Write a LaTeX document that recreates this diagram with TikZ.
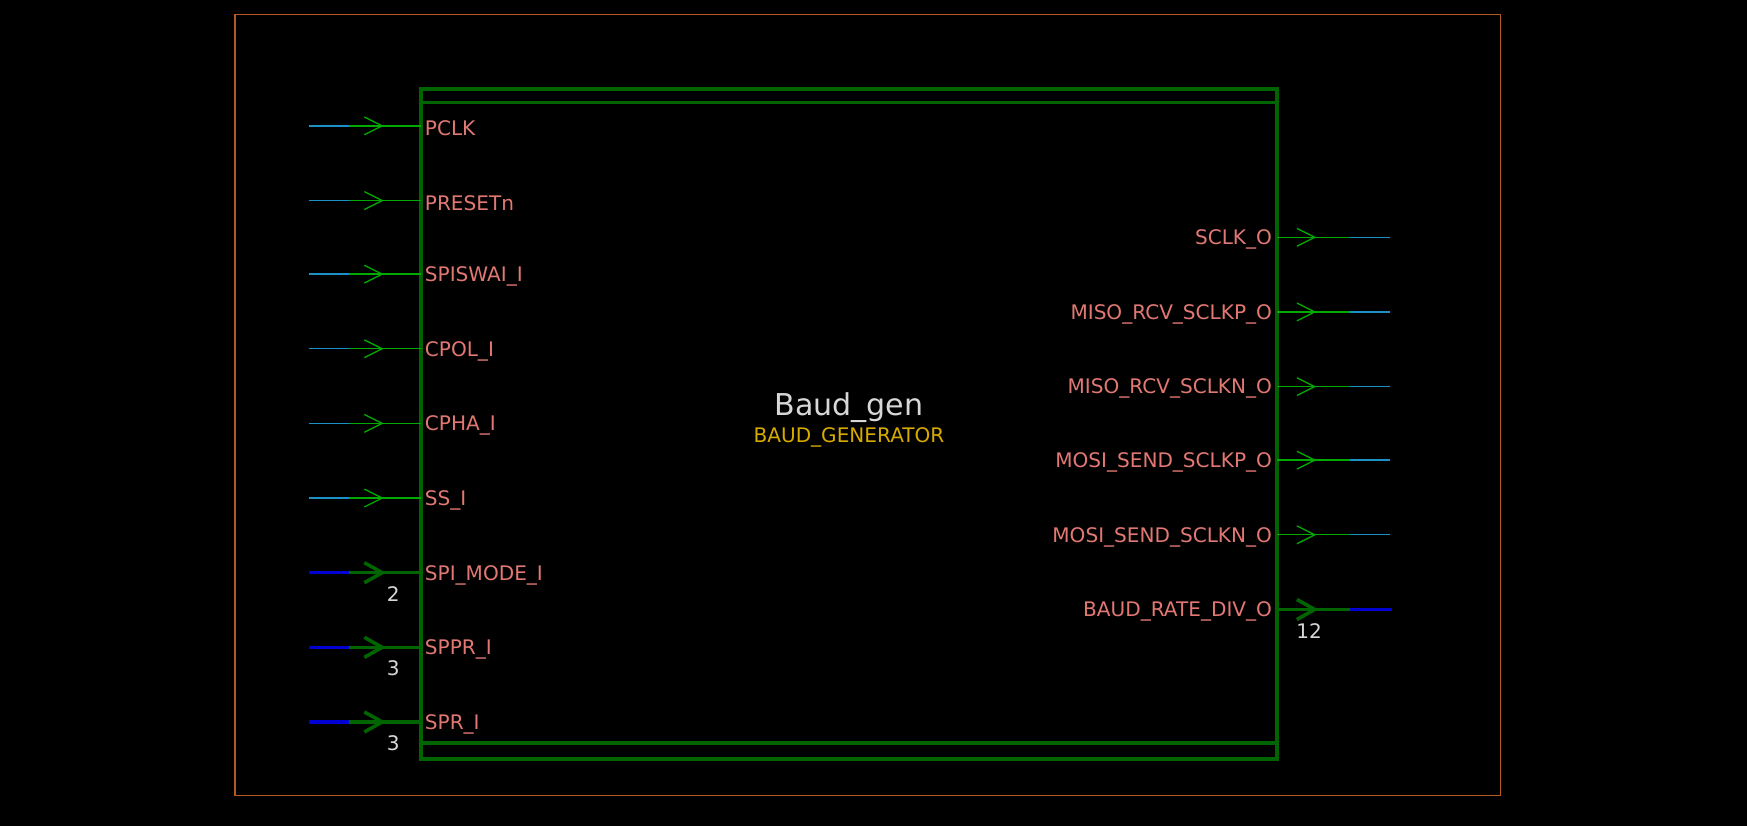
\documentclass[tikz,border=0pt]{standalone}
\usepackage{fontspec}
\setmainfont{DejaVu Sans}
\begin{document}
\begin{tikzpicture}[x=0.5pt,y=-0.5pt,
  gr/.style={draw={rgb,255:red,0;green,170;blue,0},line width=0.6pt},
  grb/.style={draw={rgb,255:red,0;green,100;blue,0},line width=1.6pt},
  cy/.style={draw={rgb,255:red,30;green,144;blue,200},line width=0.6pt},
  bl/.style={draw={rgb,255:red,0;green,0;blue,210},line width=1.6pt},
  lab/.style={text={rgb,255:red,225;green,120;blue,115},font=\fontsize{9}{10}\selectfont,inner sep=0pt},
  wd/.style={text={rgb,255:red,215;green,215;blue,215},font=\fontsize{9}{10}\selectfont,inner sep=0pt}]
\fill[black] (0,0) rectangle (1568,741);
\useasboundingbox (0,0) rectangle (1568,741);
\draw[draw={rgb,255:red,180;green,90;blue,30},line width=0.6pt] (211,13) rectangle (1347,714);
\draw[grb] (378,80) rectangle (1146,681);
\draw[grb] (378,92) -- (1146,92);
\draw[grb] (378,667) -- (1146,667);
\node[text={rgb,255:red,215;green,215;blue,215},font=\fontsize{13.5}{15}\selectfont] (name) at (762,366) {Baud\_gen};
\node[text={rgb,255:red,215;green,170;blue,0},font=\fontsize{9}{10}\selectfont] (type) at (762,393) {BAUD\_GENERATOR};
% single inputs
\foreach \y/\t [count=\i] in {113/PCLK,180/PRESETn,246/SPISWAI\_I,313/CPOL\_I,380/CPHA\_I,447/SS\_I}{
  \coordinate (in\i) at (277,\y);
  \draw[cy] (in\i) -- ++(36,0);
  \draw[gr] (313,\y) -- (378,\y);
  \draw[gr] (327,\y-8) -- (343,\y) -- (327,\y+8);
  \node[lab,anchor=west] (il\i) at (381,\y+2) {\t};
}
\foreach \y/\t/\w [count=\i] in {514/SPI\_MODE\_I/2,581/SPPR\_I/3,648/SPR\_I/3}{
  \coordinate (bin\i) at (277,\y);
  \draw[bl] (bin\i) -- ++(36,0);
  \draw[grb] (313,\y) -- (378,\y);
  \draw[grb] (327,\y-9) -- (343,\y) -- (327,\y+9);
  \node[lab,anchor=west] (bl\i) at (381,\y+2) {\t};
  \node[wd] (bw\i) at (353,\y+19) {\w};
}
\foreach \y/\t [count=\i] in {213/SCLK\_O,280/MISO\_RCV\_SCLKP\_O,347/MISO\_RCV\_SCLKN\_O,413/MOSI\_SEND\_SCLKP\_O,480/MOSI\_SEND\_SCLKN\_O}{
  \coordinate (out\i) at (1248,\y);
  \draw[gr] (1146,\y) -- (1212,\y);
  \draw[cy] (1212,\y) -- (out\i);
  \draw[gr] (1164,\y-8) -- (1180,\y) -- (1164,\y+8);
  \node[lab,anchor=east] (ol\i) at (1142,\y+2) {\t};
}
\coordinate (bout) at (1249,547);
\draw[grb] (1146,547) -- (1212,547);
\draw[bl] (1212,547) -- (bout);
\draw[grb] (1164,538) -- (1180,547) -- (1164,556);
\node[lab,anchor=east] (obl) at (1142,549) {BAUD\_RATE\_DIV\_O};
\node[wd] (obw) at (1175,566) {12};
\end{tikzpicture}
\end{document}
